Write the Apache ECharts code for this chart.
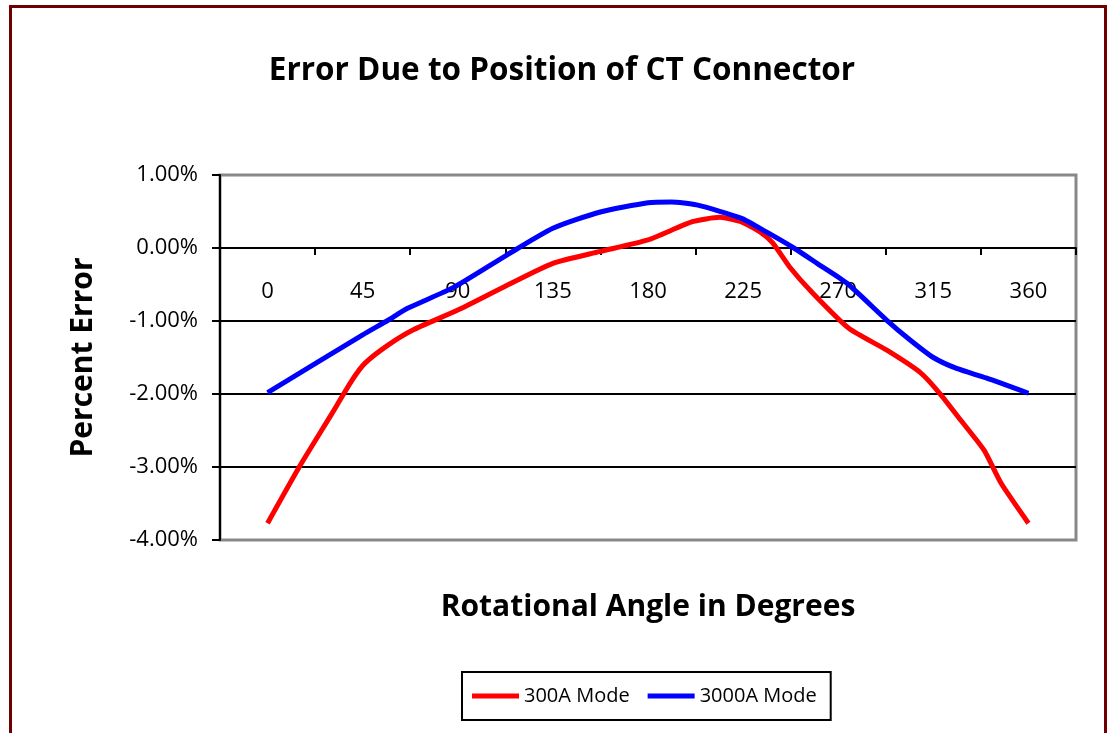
<!DOCTYPE html>
<html>
<head>
  <meta charset='utf-8'>
  <script src="https://cdn.jsdelivr.net/npm/echarts@6/dist/echarts.min.js"></script>
  <title>Error Due to Position of CT Connector</title>
  <style>
    html, body { margin: 0; padding: 0; background: #fff; }
  </style>
</head>
<body>
<div id="main" style="width: 1112px;height:733px;"></div>
<script type="text/javascript">
  // category labels on the zero line
  var angleLabels = ['0', '45', '90', '135', '180', '225', '270', '315', '360'];

  // 300A Mode
  var redAngles = [0, 15, 30, 40, 46, 57, 69, 90, 112, 135, 157, 180, 201, 214, 224, 233, 239, 247, 258, 275, 293, 309, 318, 328, 339, 347, 360];
  var redValues = [-3.77, -3.0, -2.29, -1.81, -1.58, -1.33, -1.12, -0.85, -0.53, -0.21, -0.05, 0.11, 0.36, 0.42, 0.36, 0.22, 0.07, -0.26, -0.62, -1.10, -1.40, -1.71, -1.99, -2.36, -2.77, -3.22, -3.77];

  // 3000A Mode
  var blueAngles = [0, 45, 57, 66, 88, 113, 135, 157, 180, 191, 203, 224, 236, 249, 260, 274, 293, 304, 315, 326, 340, 360];
  var blueValues = [-1.98, -1.19, -0.99, -0.83, -0.54, -0.10, 0.27, 0.49, 0.62, 0.63, 0.59, 0.41, 0.22, 0.0, -0.21, -0.48, -0.99, -1.26, -1.50, -1.65, -1.78, -1.99];

  function pairs(xs, ys) {
    return xs.map(function (x, i) { return [x, ys[i]]; });
  }

  var font = '"Open Sans", Lato, sans-serif';
  var chart = echarts.init(document.getElementById('main'));

  var option = {
    backgroundColor: '#ffffff',
    animation: false,
    textStyle: { fontFamily: font, color: '#000' },
    title: {
      text: 'Error Due to Position of CT Connector',
      left: 557,
      textAlign: 'center',
      top: 50,
      textStyle: { fontFamily: font, fontSize: 31.5, fontWeight: 'bold', color: '#000' }
    },
    graphic: [{
      type: 'rect',
      shape: { x: 10.5, y: 6.5, width: 1095, height: 760 },
      style: { fill: 'none', stroke: '#6e0000', lineWidth: 3 },
      silent: true
    }],
    legend: {
      left: 462,
      top: 672,
      padding: [14, 14, 14, 10],
      borderColor: '#000',
      borderWidth: 2,
      itemGap: 18,
      itemWidth: 47,
      itemHeight: 5,
      icon: 'rect',
      textStyle: { fontFamily: font, fontSize: 20, color: '#000' },
      data: ['300A Mode', '3000A Mode']
    },
    grid: {
      left: 220,
      top: 175,
      width: 856,
      height: 365,
      show: true,
      borderColor: '#888',
      borderWidth: 3
    },
    xAxis: [{
      type: 'category',
      data: angleLabels,
      boundaryGap: true,
      position: 'bottom',
      offset: -292,
      axisLine: { onZero: false, lineStyle: { color: '#000', width: 2 } },
      axisTick: { show: true, length: 7, inside: false, lineStyle: { color: '#000', width: 2 } },
      axisLabel: { margin: 33, fontSize: 22, color: '#000', fontFamily: font },
      splitLine: { show: false }
    }, {
      type: 'value',
      min: -22.5,
      max: 382.5,
      position: 'bottom',
      name: 'Rotational Angle in Degrees',
      nameLocation: 'middle',
      nameGap: 52,
      nameTextStyle: { fontFamily: font, fontSize: 30, fontWeight: 'bold', color: '#000' },
      axisLine: { show: false, onZero: false },
      axisTick: { show: false },
      axisLabel: { show: false },
      splitLine: { show: false }
    }],
    yAxis: {
      type: 'value',
      min: -4,
      max: 1,
      interval: 1,
      name: 'Percent Error',
      nameLocation: 'middle',
      nameRotate: 90,
      nameGap: 122,
      nameTextStyle: { fontFamily: font, fontSize: 30, fontWeight: 'bold', color: '#000' },
      axisLine: { show: true, onZero: false, lineStyle: { color: '#000', width: 2 } },
      axisTick: { show: true, length: 8, lineStyle: { color: '#000', width: 2 } },
      axisLabel: {
        margin: 22,
        fontSize: 22,
        color: '#000',
        fontFamily: font,
        formatter: function (v) { return v.toFixed(2) + '%'; }
      },
      splitLine: { show: true, showMinLine: false, showMaxLine: false, lineStyle: { color: '#000', width: 2 } }
    },
    series: [{
      name: '300A Mode',
      type: 'line',
      xAxisIndex: 1,
      showSymbol: false,
      smooth: 0.2,
      color: '#ff0000',
      lineStyle: { color: '#ff0000', width: 5 },
      data: pairs(redAngles, redValues)
    }, {
      name: '3000A Mode',
      type: 'line',
      xAxisIndex: 1,
      showSymbol: false,
      smooth: 0.2,
      color: '#0000ff',
      lineStyle: { color: '#0000ff', width: 5 },
      data: pairs(blueAngles, blueValues)
    }]
  };

  chart.setOption(option);

  window.addEventListener('resize', function () {
    chart.resize();
  });
</script>
</body>
</html>
